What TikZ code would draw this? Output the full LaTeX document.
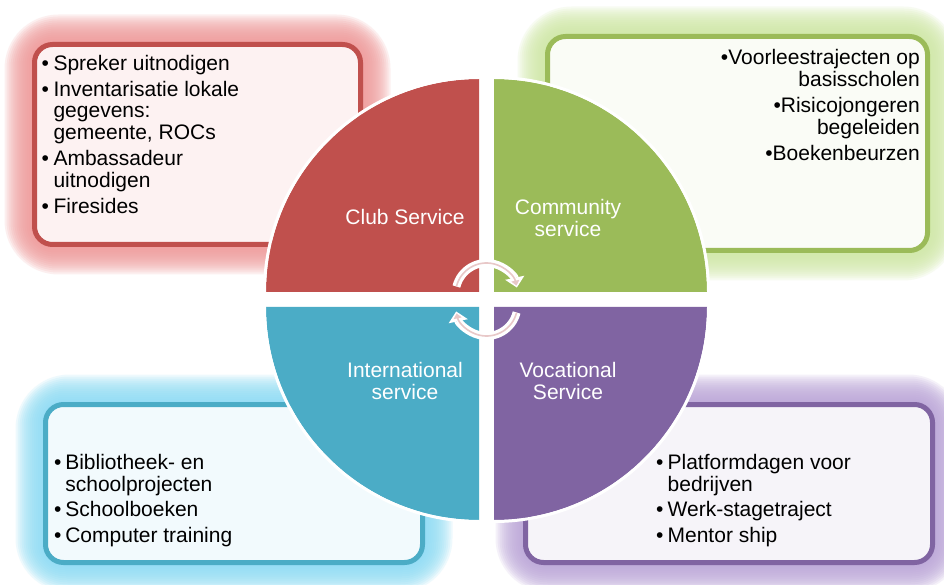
\documentclass[tikz,border=0pt]{standalone}
\usepackage{fontspec}
\setmainfont{Liberation Sans}
\usetikzlibrary{calc,arrows.meta}

\definecolor{clubred}{HTML}{C0504D}
\definecolor{commgreen}{HTML}{9BBB59}
\definecolor{intblue}{HTML}{4BACC6}
\definecolor{vocpurple}{HTML}{8064A2}
\definecolor{clubfill}{HTML}{FDF2F2}
\definecolor{commfill}{HTML}{FAFCF6}
\definecolor{intfill}{HTML}{F2FAFD}
\definecolor{vocfill}{HTML}{F6F4F9}
\definecolor{clubglow}{HTML}{F09A9A}
\definecolor{commglow}{HTML}{D0E9A6}
\definecolor{intglow}{HTML}{8EDDF5}
\definecolor{vocglow}{HTML}{BCA6D9}
\definecolor{arrowpink}{HTML}{E8C8C8}

\begin{document}
\begin{tikzpicture}[x=1pt,y=1pt,
    listbox/.style={draw=#1, line width=5pt, rounded corners=18pt, inner sep=0pt},
    listtext/.style={inner sep=0pt, font=\fontsize{21}{21.7}\selectfont},
    quadlabel/.style={white, align=center, inner sep=0pt,
        font=\fontsize{21}{21.7}\selectfont},
    cyclearrow/.style={white, line width=8pt, -{Triangle[width=19pt,length=10pt]}},
    cyclecore/.style={arrowpink, line width=1.6pt, shorten >=2pt,
        -{Triangle[width=8pt,length=5pt]}}]

\useasboundingbox (0,0) rectangle (944,584);
\fill[white] (0,0) rectangle (944,584);

% Glow and body of each list box.
\foreach \n/\x/\y/\w/\h/\c/\f/\g in {
    clubbox/197.5/439.5/326/200/clubred/clubfill/clubglow,
    commbox/737.5/440.5/380/214/commgreen/commfill/commglow,
    intbox/234/100.5/377/158/intblue/intfill/intglow,
    vocbox/729/100.5/407/158/vocpurple/vocfill/vocglow} {

    % soft glow, stacked layers
    \foreach \s in {2,4,...,30} {
        \pgfmathsetmacro\rc{18+1.2*\s}
        \fill[\g, opacity=0.15, rounded corners=\rc pt]
            ({\x-\w/2-\s},{\y-\h/2-\s}) rectangle ({\x+\w/2+\s},{\y+\h/2+\s});
    }

    % the box itself
    \node[listbox=\c, fill=\f, minimum width=\w pt, minimum height=\h pt]
        (\n) at (\x,\y) {};
}

% Four quarters of the circle, split by a white cross.
\foreach \qx/\qy/\qa/\qc in {
    479/292/90/clubred, 494/292/0/commgreen,
    479/277/180/intblue, 494/277/270/vocpurple} {

    \fill[\qc]
        (\qx,\qy) -- ++(\qa:213)
        arc[start angle=\qa, delta angle=90, radius=213] -- cycle;

    % white rim on the round edge
    \draw[white, line width=3pt]
        (\qx,\qy) ++(\qa:214.5)
        arc[start angle=\qa, delta angle=90, radius=214.5];
}

% Quarter labels.
\node[quadlabel] (clublabel) at (405,367) {Club Service};
\node[quadlabel] (commlabel) at (568,366) {Community\\service};
\node[quadlabel] (intlabel) at (405,203) {International\\service};
\node[quadlabel] (voclabel) at (568,203) {Vocational\\Service};

% Cycle arrows in the middle.
\draw[cyclearrow]
    (486.5,290) ++(166:31) arc[start angle=166, end angle=12, radius=31];
\draw[cyclecore]
    (486.5,290) ++(166:31) arc[start angle=166, end angle=12, radius=31];
\draw[cyclearrow]
    (486.5,279) ++(-14:31) arc[start angle=-14, end angle=-168, radius=31];
\draw[cyclecore]
    (486.5,279) ++(-14:31) arc[start angle=-14, end angle=-168, radius=31];

% Lists inside the boxes.
\node[listtext, anchor=north west] (clubtext)
    at ($(clubbox.north west)+(9.5,-12.6)$) {%
    \begin{tabular}{@{}l@{\hspace{4.5pt}}l@{}}
    • & Spreker uitnodigen\\[4.3pt]
    • & Inventarisatie lokale\\
      & gegevens:\\
      & gemeente, ROCs\\[4.3pt]
    • & Ambassadeur\\
      & uitnodigen\\[4.3pt]
    • & Firesides
    \end{tabular}};

\node[listtext, anchor=north east] (commtext)
    at ($(commbox.north east)+(-10,-15)$) {%
    \begin{tabular}{@{}r@{}}
    •Voorleestrajecten op\\
    basisscholen\\[4.5pt]
    •Risicojongeren\\
    begeleiden\\[4.5pt]
    •Boekenbeurzen
    \end{tabular}};

\node[listtext, anchor=north west] (inttext)
    at ($(intbox.north west)+(11,-52.5)$) {%
    \begin{tabular}{@{}l@{\hspace{3.8pt}}l@{}}
    • & Bibliotheek- en\\
      & schoolprojecten\\[3pt]
    • & Schoolboeken\\[4.5pt]
    • & Computer training
    \end{tabular}};

\node[listtext, anchor=north west] (voctext)
    at ($(vocbox.north west)+(132.8,-52.5)$) {%
    \begin{tabular}{@{}l@{\hspace{4.3pt}}l@{}}
    • & Platformdagen voor\\
      & bedrijven\\[3pt]
    • & Werk-stagetraject\\[4.5pt]
    • & Mentor ship
    \end{tabular}};

\end{tikzpicture}
\end{document}
